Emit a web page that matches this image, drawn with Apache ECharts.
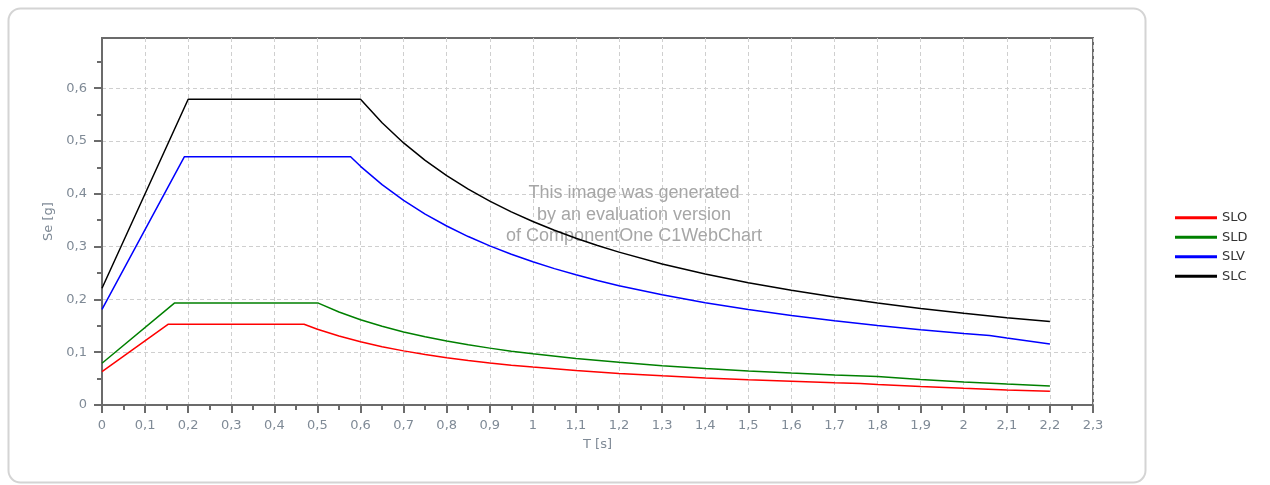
<!DOCTYPE html>
<html>
<head>
<meta charset="utf-8">
<script src="https://cdn.jsdelivr.net/npm/echarts@6/dist/echarts.min.js"></script>
<style>
html,body{margin:0;padding:0;background:#fff;}
#chart{width:1270px;height:485px;}
</style>
</head>
<body>
<div id="chart"></div>
<script>
// ---- data ----
const seriesNames = ['SLO', 'SLD', 'SLV', 'SLC'];
const sloT  = [0, 0.154, 0.469, 0.5, 0.55, 0.6, 0.65, 0.7, 0.75, 0.8, 0.85, 0.9, 0.95, 1.0, 1.1, 1.2, 1.3, 1.4, 1.5, 1.6, 1.7, 1.76, 1.8, 1.9, 2.0, 2.1, 2.2];
const sloSe = [0.063, 0.153, 0.153, 0.1435, 0.1305, 0.1196, 0.1104, 0.1025, 0.0957, 0.0897, 0.0844, 0.0797, 0.0755, 0.0718, 0.0652, 0.0598, 0.0552, 0.0513, 0.0478, 0.0449, 0.0422, 0.0408, 0.039, 0.035, 0.0316, 0.0286, 0.0261];
const sldT  = [0, 0.168, 0.502, 0.55, 0.6, 0.65, 0.7, 0.75, 0.8, 0.85, 0.9, 0.95, 1.0, 1.1, 1.2, 1.3, 1.4, 1.5, 1.6, 1.7, 1.8, 1.9, 2.0, 2.1, 2.2];
const sldSe = [0.079, 0.193, 0.193, 0.1762, 0.1615, 0.1491, 0.1384, 0.1292, 0.1211, 0.114, 0.1077, 0.102, 0.0969, 0.0881, 0.0808, 0.0745, 0.0692, 0.0646, 0.0606, 0.057, 0.0538, 0.0483, 0.0436, 0.0396, 0.036];
const slvT  = [0, 0.191, 0.577, 0.6, 0.65, 0.7, 0.75, 0.8, 0.85, 0.9, 0.95, 1.0, 1.05, 1.1, 1.15, 1.2, 1.3, 1.4, 1.5, 1.6, 1.7, 1.8, 1.9, 2.0, 2.06, 2.1, 2.2];
const slvSe = [0.181, 0.47, 0.47, 0.452, 0.4172, 0.3874, 0.3616, 0.339, 0.319, 0.3013, 0.2855, 0.2712, 0.2583, 0.2465, 0.2358, 0.226, 0.2086, 0.1937, 0.1808, 0.1695, 0.1595, 0.1507, 0.1427, 0.1356, 0.1317, 0.1267, 0.1154];
const slcT  = [0, 0.2, 0.6, 0.65, 0.7, 0.75, 0.8, 0.85, 0.9, 0.95, 1.0, 1.05, 1.1, 1.15, 1.2, 1.3, 1.4, 1.5, 1.6, 1.7, 1.8, 1.9, 2.0, 2.1, 2.2];
const slcSe = [0.221, 0.579, 0.579, 0.5345, 0.4963, 0.4632, 0.4343, 0.4087, 0.386, 0.3657, 0.3474, 0.3309, 0.3158, 0.3021, 0.2895, 0.2672, 0.2481, 0.2316, 0.2171, 0.2044, 0.193, 0.1828, 0.1737, 0.1654, 0.1579];
const yTickValues = [0, 0.1, 0.2, 0.3, 0.4, 0.5, 0.6];
const watermarkLines = ['This image was generated', 'by an evaluation version', 'of ComponentOne C1WebChart'];
const xAxisName = 'T [s]';
const yAxisName = 'Se [g]';

const colors = ['#ff0000', '#008000', '#0000ff', '#000000'];
const tSets = [sloT, sldT, slvT, slcT];
const seSets = [sloSe, sldSe, slvSe, slcSe];

function fmt(v) {
  const r = Math.round(v * 10) / 10;
  return String(r).replace('.', ',');
}

const chart = echarts.init(document.getElementById('chart'), null, {renderer: 'canvas'});
const labelColor = '#7f8a96';
const axisColor = '#6b6b6b';

const option = {
  animation: false,
  backgroundColor: '#ffffff',
  graphic: [
    {
      type: 'rect', z: -10, silent: true,
      shape: {x: 8.5, y: 8.5, width: 1137, height: 474, r: 12},
      style: {fill: '#ffffff', stroke: '#d4d4d4', lineWidth: 2}
    },
    {
      type: 'text', z: 1, silent: true,
      x: 634, y: 182,
      style: {
        text: watermarkLines.join('\n'),
        align: 'center',
        verticalAlign: 'top',
        font: '18px "Liberation Sans", Arial, sans-serif',
        fill: '#a6a6a6',
        lineHeight: 21.7
      }
    }
  ],
  grid: {
    left: 102, right: 177, top: 38, bottom: 80,
    show: true, borderColor: axisColor, borderWidth: 2, backgroundColor: 'transparent'
  },
  legend: {
    orient: 'vertical',
    left: 1175, top: 210,
    padding: 0,
    icon: 'rect',
    itemWidth: 42, itemHeight: 3,
    itemGap: 4,
    textStyle: {fontFamily: 'DejaVu Sans', fontSize: 13, color: '#333333', lineHeight: 15.5},
    data: seriesNames
  },
  xAxis: {
    type: 'value',
    min: 0, max: 2.3, interval: 0.1,
    name: xAxisName, nameLocation: 'middle', nameGap: 33,
    nameTextStyle: {fontFamily: 'DejaVu Sans', fontSize: 13, color: labelColor},
    axisLine: {show: true, onZero: false, lineStyle: {color: axisColor, width: 2}},
    axisTick: {show: true, length: 8, lineStyle: {color: axisColor, width: 2}},
    minorTick: {show: true, splitNumber: 2, length: 5, lineStyle: {color: axisColor, width: 2}},
    axisLabel: {margin: 14, fontFamily: 'DejaVu Sans', fontSize: 13, color: labelColor, formatter: fmt},
    splitLine: {show: true, lineStyle: {color: '#cfcfcf', type: [4, 3], width: 1}}
  },
  yAxis: {
    type: 'value',
    min: 0, max: 0.695, interval: 0.1,
    name: yAxisName, nameLocation: 'middle', nameGap: 37, nameRotate: 90,
    nameTextStyle: {fontFamily: 'DejaVu Sans', fontSize: 13, color: labelColor},
    axisLine: {show: true, onZero: false, lineStyle: {color: axisColor, width: 2}},
    axisTick: {show: true, length: 8, customValues: yTickValues, lineStyle: {color: axisColor, width: 2}},
    minorTick: {show: true, splitNumber: 2, length: 5, lineStyle: {color: axisColor, width: 2}},
    axisLabel: {margin: 15, showMaxLabel: false, fontFamily: 'DejaVu Sans', fontSize: 13, color: labelColor, formatter: fmt},
    splitLine: {show: true, lineStyle: {color: '#cfcfcf', type: [4, 3], width: 1}}
  },
  series: seriesNames.map((name, i) => ({
    name: name,
    type: 'line',
    showSymbol: false,
    symbol: 'none',
    smooth: false,
    color: colors[i],
    lineStyle: {color: colors[i], width: 1.5},
    data: tSets[i].map((t, k) => [t, seSets[i][k]]),
    z: 3
  }))
};
chart.setOption(option);
</script>
</body>
</html>
